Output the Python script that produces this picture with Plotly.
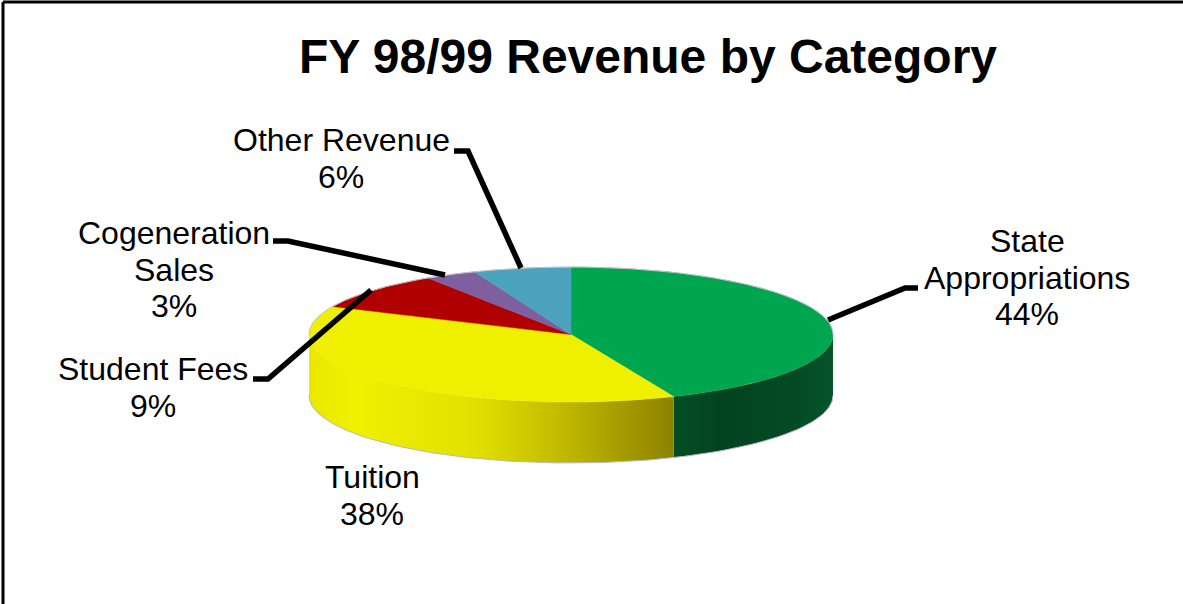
import numpy as np
import plotly.graph_objects as go

title = "FY 98/99 Revenue by Category"
categories = ["State Appropriations", "Tuition", "Student Fees", "Cogeneration Sales", "Other Revenue"]
values = [43.6, 38.2, 9.0, 3.2, 6.0]
label_lines = [["State", "Appropriations"], ["Tuition"], ["Student Fees"], ["Cogeneration", "Sales"], ["Other Revenue"]]
top_colors = ["#00A54F", "#EFEF00", "#B10000", "#7E5F9F", "#4BA3BE"]
side_scales = [
    [[0, "#024E25"], [0.3, "#03431F"], [0.75, "#044A24"], [1, "#06542B"]],
    [[0, "#E9E900"], [0.13, "#F0F000"], [0.45, "#E2E000"], [0.68, "#C4BC00"], [1, "#8C8200"]],
]

# Layout geometry in pixels of the frame
CX, CY, RX, RY, DEPTH = 571, 334.5, 262, 67.5, 61
FONT = "Liberation Sans, Arial, sans-serif"
# label anchor (centre x, first-line centre y) and leader-line path for each category
label_pos = [(1027, 241), (372, 477), (153, 369), (174, 233), (341, 140)]
leaders = [
    [(828, 320), (905, 288), (918, 288)],
    None,
    [(253, 379), (268, 379), (371, 290)],
    [(273, 241), (288, 241), (445, 275)],
    [(454, 151), (468, 151), (521, 268)],
]
LINE_H = 36.5


def rim(a0, a1, dy=0.0, n=160):
    t = np.radians(np.linspace(a0, a1, n))
    return CX + RX * np.sin(t), CY - RY * np.cos(t) + dy


fig = go.Figure()
total = sum(values)
edges = np.cumsum([0] + values) / total * 360

# Visible side walls (front half of the pie, angle 90..270)
for i, scale in enumerate(side_scales):
    a0, a1 = max(edges[i], 90), min(edges[i + 1], 270)
    xt, yt = rim(a0, a1)
    xb, yb = rim(a1, a0, DEPTH)
    xs = np.r_[xt, xb, xt[0]]
    ys = np.r_[yt, yb, yt[0]]
    fig.add_trace(go.Scatter(
        x=xs, y=ys, mode="lines", fill="toself", line=dict(width=0), hoverinfo="skip",
        fillgradient=dict(type="horizontal", colorscale=scale, start=float(xs.min()), stop=float(xs.max())),
    ))

# Thin soft outline under the rim
xo, yo = rim(90, 270, DEPTH)
fig.add_trace(go.Scatter(x=xo, y=yo, mode="lines", line=dict(color="#B8B8B8", width=1), hoverinfo="skip"))

# Top face
for i, cat in enumerate(categories):
    xt, yt = rim(edges[i], edges[i + 1])
    fig.add_trace(go.Scatter(
        x=np.r_[CX, xt, CX], y=np.r_[CY, yt, CY], mode="lines", fill="toself",
        fillcolor=top_colors[i], line=dict(color=top_colors[i], width=0.5), name=cat, hoverinfo="name",
    ))
xo, yo = rim(-90, 90)
fig.add_trace(go.Scatter(x=xo, y=yo, mode="lines", line=dict(color="#C4C4C4", width=1), hoverinfo="skip"))

# Leader lines
for path in leaders:
    if path:
        fig.add_trace(go.Scatter(
            x=[p[0] for p in path], y=[p[1] for p in path], mode="lines",
            line=dict(color="#000000", width=5.5), hoverinfo="skip",
        ))

# Data labels
annotations = []
for lines, v, (lx, ly) in zip(label_lines, values, label_pos):
    pct = f"{round(v / total * 100)}%"
    for j, text in enumerate(lines + [pct]):
        annotations.append(dict(
            x=lx, y=ly + j * LINE_H, text=text, showarrow=False, xanchor="center", yanchor="middle",
            font=dict(family=FONT, size=32, color="#000000"),
        ))

fig.update_layout(
    width=1183, height=604, margin=dict(l=0, r=0, t=0, b=0), autosize=False,
    paper_bgcolor="#FFFFFF", plot_bgcolor="#FFFFFF", showlegend=False,
    title=dict(text=title, x=648 / 1183, y=1 - 56 / 604, xanchor="center", yanchor="middle",
               font=dict(family=FONT, size=48, color="#000000", weight="bold")),
    xaxis=dict(range=[0, 1183], visible=False, fixedrange=True),
    yaxis=dict(range=[604, 0], visible=False, fixedrange=True),
    annotations=annotations,
    shapes=[
        dict(type="line", xref="x", yref="y", x0=3, y0=2, x1=1183, y1=2, line=dict(color="#000000", width=3)),
        dict(type="line", xref="x", yref="y", x0=3, y0=2, x1=3, y1=604, line=dict(color="#000000", width=3)),
    ],
)
fig.write_html(
    "out.html",
    config=dict(displayModeBar=False),
    post_script="document.body.style.margin='0';document.documentElement.style.overflow='hidden';",
)
